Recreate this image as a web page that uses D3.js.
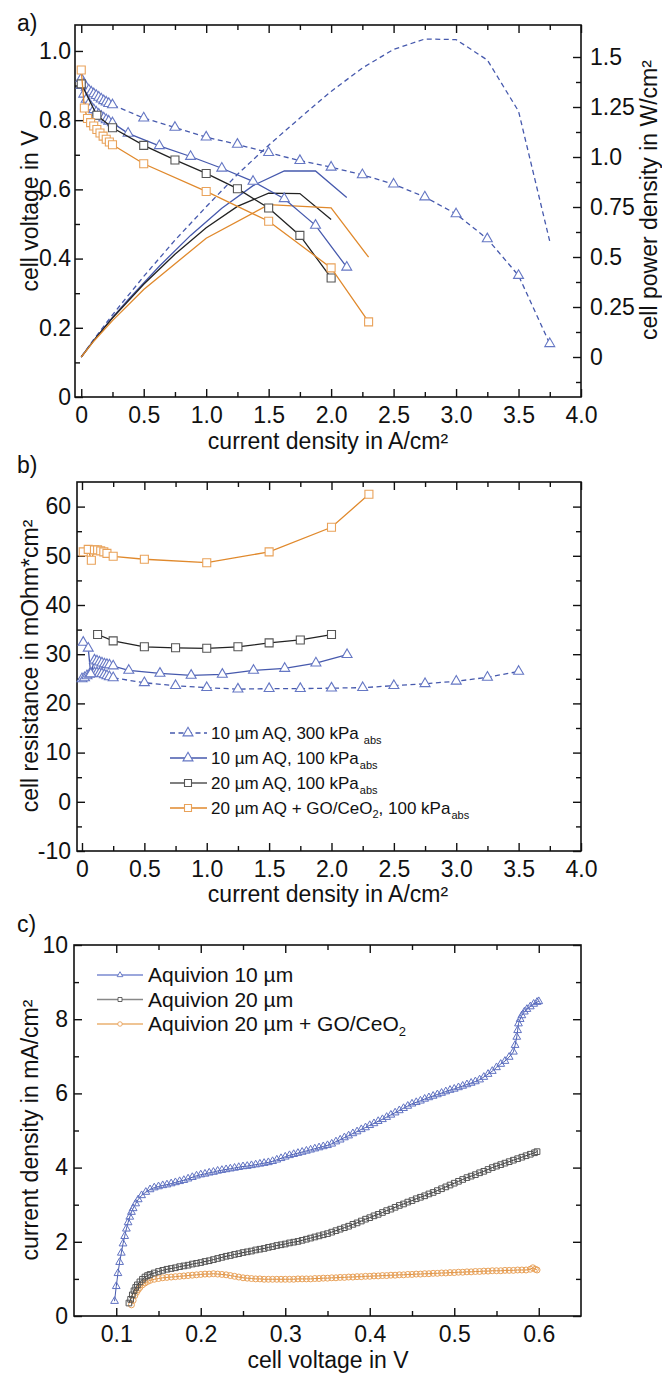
<!DOCTYPE html>
<html><head><meta charset="utf-8">
<script src="https://cdn.jsdelivr.net/npm/d3@7"></script>
<style>
body{margin:0;background:#fff}
svg{display:block}
text{font-family:"Liberation Sans",Arial,Helvetica,sans-serif;fill:#111}
</style>
</head><body>
<svg id="chart" width="662" height="1375"></svg>
<script>
// ---------------- Panel a: polarisation (cell voltage) ----------------
const aI300 = [0,0.02,0.04,0.06,0.08,0.10,0.12,0.14,0.16,0.18,0.20,0.22,0.25,0.5,0.75,1.0,1.25,1.5,1.75,2.0,2.25,2.5,2.75,3.0,3.25,3.5,3.75];
const aV300 = [0.920,0.905,0.895,0.887,0.881,0.876,0.871,0.866,0.861,0.856,0.852,0.848,0.844,0.806,0.779,0.751,0.730,0.706,0.683,0.664,0.642,0.615,0.578,0.529,0.457,0.351,0.154];
const aI100 = [0,0.02,0.04,0.06,0.08,0.10,0.12,0.14,0.16,0.18,0.20,0.22,0.25,0.375,0.625,0.875,1.125,1.375,1.625,1.875,2.125];
const aV100 = [0.900,0.875,0.860,0.848,0.838,0.830,0.823,0.817,0.811,0.806,0.801,0.797,0.792,0.762,0.726,0.695,0.661,0.623,0.573,0.496,0.375];
const aI20 = [0,0.125,0.25,0.5,0.75,1.0,1.25,1.5,1.75,2.0];
const aV20 = [0.905,0.814,0.778,0.727,0.685,0.646,0.602,0.546,0.467,0.344];
const aIGO = [0,0.025,0.05,0.075,0.1,0.125,0.15,0.175,0.2,0.225,0.25,0.5,1.0,1.5,2.0,2.3];
const aVGO = [0.945,0.835,0.805,0.793,0.783,0.773,0.763,0.754,0.745,0.737,0.729,0.674,0.594,0.508,0.373,0.217];
// power density (right axis)
const pI300 = [0,0.1,0.25,0.5,0.75,1.0,1.25,1.5,1.75,2.0,2.25,2.5,2.75,3.0,3.25,3.5,3.75];
const pP300 = [0,0.088,0.211,0.403,0.584,0.751,0.913,1.059,1.195,1.328,1.445,1.538,1.590,1.587,1.485,1.229,0.578];
const pI100 = [0,0.1,0.25,0.375,0.625,0.875,1.125,1.375,1.625,1.875,2.125];
const pP100 = [0,0.083,0.198,0.286,0.454,0.608,0.744,0.857,0.931,0.930,0.797];
const pI20 = [0,0.125,0.25,0.5,0.75,1.0,1.25,1.5,1.75,2.0];
const pP20 = [0,0.102,0.195,0.364,0.514,0.646,0.753,0.819,0.817,0.688];
const pIGO = [0,0.1,0.25,0.5,1.0,1.5,2.0,2.3];
const pPGO = [0,0.079,0.182,0.337,0.594,0.762,0.746,0.499];

// ---------------- Panel b: cell resistance ----------------
const bI300 = [0,0.02,0.04,0.06,0.08,0.1,0.12,0.14,0.16,0.18,0.2,0.22,0.25,0.5,0.75,1.0,1.25,1.5,1.75,2.0,2.25,2.5,2.75,3.0,3.25,3.5];
const bR300 = [25.0,25.2,25.6,25.9,26.1,26.2,26.2,26.1,26.0,25.8,25.6,25.4,25.2,24.2,23.6,23.2,22.9,23.0,23.0,23.1,23.2,23.6,24.0,24.5,25.3,26.5];
const bI100 = [0.01,0.05,0.07,0.1,0.12,0.14,0.16,0.18,0.2,0.22,0.25,0.375,0.625,0.875,1.125,1.375,1.625,1.875,2.125];
const bR100 = [32.4,31.2,26.0,28.8,28.6,28.4,28.2,28.0,27.9,27.8,27.6,26.7,26.1,25.7,25.9,26.7,27.1,28.2,29.9];
const bI20 = [0.125,0.25,0.5,0.75,1.0,1.25,1.5,1.75,2.0];
const bR20 = [34.0,32.7,31.5,31.3,31.2,31.5,32.3,32.9,34.0];
const bIGO = [0.01,0.05,0.075,0.1,0.125,0.15,0.175,0.2,0.25,0.5,1.0,1.5,2.0,2.3];
const bRGO = [50.8,51.3,49.1,51.2,51.2,51.0,50.8,50.5,49.9,49.3,48.6,50.8,55.8,62.5];

// ---------------- Panel c: [cell voltage V, current density mA/cm2] ----------------
const cAq10 = [[0.098,0.40],[0.100,0.80],[0.102,1.15],[0.104,1.45],[0.106,1.70],[0.108,1.95],[0.110,2.15],[0.112,2.35],[0.114,2.52],[0.116,2.67],[0.118,2.80],[0.120,2.90],[0.123,3.03],[0.126,3.14],[0.130,3.25],[0.135,3.34],[0.140,3.41],[0.145,3.46],[0.150,3.49],[0.155,3.52],[0.160,3.54],[0.165,3.57],[0.170,3.60],[0.175,3.63],[0.180,3.66],[0.185,3.70],[0.190,3.74],[0.195,3.78],[0.200,3.81],[0.205,3.83],[0.210,3.86],[0.215,3.88],[0.220,3.91],[0.225,3.93],[0.230,3.95],[0.235,3.97],[0.240,3.99],[0.245,4.01],[0.250,4.03],[0.255,4.04],[0.260,4.06],[0.265,4.08],[0.270,4.10],[0.275,4.12],[0.280,4.14],[0.285,4.17],[0.290,4.21],[0.295,4.25],[0.300,4.29],[0.305,4.33],[0.310,4.36],[0.315,4.39],[0.320,4.42],[0.325,4.45],[0.330,4.48],[0.335,4.51],[0.340,4.54],[0.345,4.57],[0.350,4.60],[0.355,4.64],[0.360,4.70],[0.365,4.75],[0.370,4.81],[0.375,4.86],[0.380,4.92],[0.385,4.97],[0.390,5.03],[0.395,5.08],[0.400,5.14],[0.405,5.19],[0.410,5.25],[0.415,5.30],[0.420,5.36],[0.425,5.42],[0.430,5.48],[0.435,5.54],[0.440,5.60],[0.445,5.66],[0.450,5.72],[0.455,5.76],[0.460,5.80],[0.465,5.85],[0.470,5.89],[0.475,5.93],[0.480,5.97],[0.485,6.01],[0.490,6.05],[0.495,6.09],[0.500,6.12],[0.505,6.16],[0.510,6.20],[0.515,6.24],[0.520,6.28],[0.525,6.32],[0.530,6.37],[0.535,6.44],[0.540,6.52],[0.545,6.60],[0.550,6.70],[0.555,6.79],[0.560,6.87],[0.565,6.98],[0.570,7.12],[0.572,7.30],[0.574,7.52],[0.575,7.70],[0.576,7.88],[0.578,8.00],[0.580,8.10],[0.583,8.20],[0.586,8.27],[0.590,8.34],[0.594,8.41],[0.598,8.46],[0.600,8.48]];
const cAq20 = [[0.115,0.35],[0.117,0.45],[0.119,0.57],[0.121,0.68],[0.123,0.77],[0.125,0.84],[0.128,0.92],[0.131,0.99],[0.134,1.05],[0.137,1.09],[0.140,1.12],[0.145,1.16],[0.150,1.20],[0.155,1.23],[0.160,1.26],[0.165,1.28],[0.170,1.30],[0.175,1.33],[0.180,1.35],[0.185,1.37],[0.190,1.40],[0.195,1.42],[0.200,1.44],[0.205,1.47],[0.210,1.49],[0.215,1.52],[0.220,1.55],[0.225,1.58],[0.230,1.61],[0.235,1.63],[0.240,1.66],[0.245,1.68],[0.250,1.71],[0.255,1.73],[0.260,1.75],[0.265,1.78],[0.270,1.80],[0.275,1.82],[0.280,1.85],[0.285,1.87],[0.290,1.90],[0.295,1.92],[0.300,1.94],[0.305,1.97],[0.310,1.99],[0.315,2.01],[0.320,2.04],[0.325,2.07],[0.330,2.10],[0.335,2.13],[0.340,2.16],[0.345,2.19],[0.350,2.22],[0.355,2.26],[0.360,2.30],[0.365,2.34],[0.370,2.38],[0.375,2.42],[0.380,2.47],[0.385,2.51],[0.390,2.56],[0.395,2.61],[0.400,2.65],[0.405,2.70],[0.410,2.74],[0.415,2.79],[0.420,2.84],[0.425,2.88],[0.430,2.93],[0.435,2.98],[0.440,3.02],[0.445,3.07],[0.450,3.11],[0.455,3.16],[0.460,3.20],[0.465,3.24],[0.470,3.29],[0.475,3.33],[0.480,3.38],[0.485,3.43],[0.490,3.48],[0.495,3.53],[0.500,3.58],[0.505,3.63],[0.510,3.68],[0.515,3.73],[0.520,3.77],[0.525,3.81],[0.530,3.86],[0.535,3.90],[0.540,3.95],[0.545,4.00],[0.550,4.04],[0.555,4.08],[0.560,4.12],[0.565,4.16],[0.570,4.20],[0.575,4.24],[0.580,4.28],[0.585,4.32],[0.590,4.36],[0.595,4.40],[0.598,4.43]];
const cAq20GO = [[0.118,0.30],[0.120,0.42],[0.122,0.55],[0.124,0.64],[0.126,0.71],[0.128,0.77],[0.131,0.84],[0.134,0.89],[0.137,0.93],[0.140,0.96],[0.145,0.99],[0.150,1.01],[0.155,1.03],[0.160,1.04],[0.165,1.05],[0.170,1.06],[0.175,1.07],[0.180,1.08],[0.185,1.09],[0.190,1.10],[0.195,1.11],[0.200,1.12],[0.205,1.13],[0.210,1.13],[0.215,1.14],[0.220,1.13],[0.225,1.12],[0.230,1.11],[0.235,1.09],[0.240,1.07],[0.245,1.05],[0.250,1.03],[0.255,1.02],[0.260,1.01],[0.265,1.00],[0.270,1.00],[0.275,0.99],[0.280,0.99],[0.285,0.99],[0.290,0.99],[0.295,0.99],[0.300,0.99],[0.305,0.99],[0.310,0.99],[0.315,1.00],[0.320,1.00],[0.325,1.00],[0.330,1.00],[0.335,1.01],[0.340,1.01],[0.345,1.02],[0.350,1.02],[0.355,1.03],[0.360,1.03],[0.365,1.04],[0.370,1.04],[0.375,1.05],[0.380,1.05],[0.385,1.06],[0.390,1.06],[0.395,1.07],[0.400,1.07],[0.405,1.08],[0.410,1.08],[0.415,1.09],[0.420,1.09],[0.425,1.10],[0.430,1.10],[0.435,1.11],[0.440,1.11],[0.445,1.12],[0.450,1.12],[0.455,1.13],[0.460,1.13],[0.465,1.14],[0.470,1.14],[0.475,1.15],[0.480,1.15],[0.485,1.16],[0.490,1.16],[0.495,1.17],[0.500,1.17],[0.505,1.18],[0.510,1.18],[0.515,1.19],[0.520,1.19],[0.525,1.20],[0.530,1.20],[0.535,1.21],[0.540,1.21],[0.545,1.22],[0.550,1.22],[0.555,1.22],[0.560,1.23],[0.565,1.23],[0.570,1.23],[0.575,1.24],[0.580,1.24],[0.585,1.24],[0.590,1.26],[0.593,1.30],[0.596,1.26],[0.598,1.24]];

// ---------------- tick values & labels ----------------
const aXMaj = [0,0.5,1.0,1.5,2.0,2.5,3.0,3.5,4.0];
const aXMin = [0.25,0.75,1.25,1.75,2.25,2.75,3.25,3.75];
const aYMaj = [0,0.2,0.4,0.6,0.8,1.0];
const aYMin = [0.1,0.3,0.5,0.7,0.9];
const aPMaj = [0,0.25,0.5,0.75,1.0,1.25,1.5];
const aPLab = ["0","0.25","0.5","0.75","1.0","1.25","1.5"];
const aPMin = [-0.125,0.125,0.375,0.625,0.875,1.125,1.375];
const bYMaj = [-10,0,10,20,30,40,50,60];
const bYMin = [-5,5,15,25,35,45,55];
const cXMaj = [0.1,0.2,0.3,0.4,0.5,0.6];
const cXMin = [0.15,0.25,0.35,0.45,0.55];
const cYMaj = [0,2,4,6,8,10];
const cYMin = [1,3,5,7,9];

const legendB = ["10 µm AQ, 300 kPa","10 µm AQ, 100 kPa","20 µm AQ, 100 kPa","20 µm AQ + GO/CeO"];
const legendC = ["Aquivion 10 µm","Aquivion 20 µm","Aquivion 20 µm + GO/CeO"];

// ---------------- styles ----------------
const BLUE = "#4659ad", BLUE_M = "#6577c4", BLACK = "#222", GRAY_M = "#555", ORANGE = "#e0892c", ORANGE_M = "#e9a25a";
const FS = 23;

const svg = d3.select("#chart");
const zip = (a, b) => a.map((v, i) => [v, b[i]]);
const fmt1 = d => d === 0 ? "0" : d.toFixed(1);

function axis(gen, tr, vals, size, fmt, pad) {
  const a = svg.append("g").attr("transform", tr)
    .call(gen.tickValues(vals).tickSize(-size).tickPadding(pad).tickFormat(fmt || (() => "")));
  a.select(".domain").remove();
  a.selectAll("line").attr("stroke", "#111").attr("stroke-width", 1.4);
  a.selectAll("text").attr("font-size", FS).attr("fill", "#111")
    .attr("font-family", '"Liberation Sans",Arial,sans-serif');
  return a;
}

function frame(x, y, o) {
  const [x0, x1] = x.range(), [yb, yt] = y.range();
  axis(d3.axisBottom(x), `translate(0,${yb})`, o.xMaj, 8, o.xFmt, 10);
  axis(d3.axisBottom(x), `translate(0,${yb})`, o.xMin, 5, null, 10);
  axis(d3.axisTop(x), `translate(0,${yt})`, o.xMaj, 8, null, 3);
  axis(d3.axisTop(x), `translate(0,${yt})`, o.xMin, 5, null, 3);
  axis(d3.axisLeft(y), `translate(${x0},0)`, o.yMaj, 8, o.yFmt, o.yPad);
  axis(d3.axisLeft(y), `translate(${x0},0)`, o.yMin, 5, null, 3);
  if (!o.noRight) {
    axis(d3.axisRight(y), `translate(${x1},0)`, o.yMaj, 8, null, 3);
    axis(d3.axisRight(y), `translate(${x1},0)`, o.yMin, 5, null, 3);
  }
  svg.append("rect").attr("x", x0).attr("y", yt).attr("width", x1 - x0).attr("height", yb - yt)
    .attr("fill", "none").attr("stroke", "#111").attr("stroke-width", 1.6);
}

function symbolPath(type, size) {
  const t = type === "tri" ? d3.symbolTriangle : type === "sq" ? d3.symbolSquare : d3.symbolCircle;
  return d3.symbol().type(t).size(size)();
}

function series(x, y, data, o) {
  const g = svg.append("g");
  g.append("path").datum(data)
    .attr("d", d3.line().x(d => x(d[0])).y(d => y(d[1])))
    .attr("fill", "none").attr("stroke", o.color).attr("stroke-width", o.lw || 1.3)
    .attr("stroke-dasharray", o.dash || null);
  if (o.marker) {
    const p = symbolPath(o.marker, o.size);
    g.selectAll("path.m").data(data).join("path").attr("class", "m")
      .attr("d", p)
      .attr("transform", d => `translate(${x(d[0])},${y(d[1])})`)
      .attr("fill", o.fill || "#fff").attr("stroke", o.mcolor || o.color)
      .attr("stroke-width", o.msw || 1.1);
  }
}

function txt(x, y, s, o = {}) {
  const t = svg.append("text").attr("x", x).attr("y", y).text(s)
    .attr("font-size", o.fs || FS).attr("text-anchor", o.anchor || "start");
  if (o.rot) t.attr("transform", `rotate(-90,${x},${y})`);
  return t;
}

// ======================= Panel a =======================
const xA = d3.scaleLinear().domain([-0.05, 4.0]).range([75, 581]);
const yA = d3.scaleLinear().domain([0, 1.075]).range([397, 25]);
const yP = d3.scaleLinear().domain([-0.2, 1.66]).range([397, 25]);
frame(xA, yA, { xMaj: aXMaj, xMin: aXMin, xFmt: fmt1, yMaj: aYMaj, yMin: aYMin, yFmt: fmt1, yPad: 4, noRight: true });
axis(d3.axisRight(yP), `translate(581,0)`, aPMaj, 8, (d, i) => aPLab[i], 9);
axis(d3.axisRight(yP), `translate(581,0)`, aPMin, 5, null, 3);

// power curves
series(xA, yP, zip(pI300, pP300), { color: BLUE, dash: "5,3.5" });
series(xA, yP, zip(pI100, pP100), { color: BLUE });
series(xA, yP, zip(pI20, pP20), { color: BLACK });
series(xA, yP, zip(pIGO, pPGO), { color: ORANGE });
// voltage curves
series(xA, yA, zip(aI300, aV300), { color: BLUE, dash: "5,3.5", marker: "tri", size: 43, mcolor: BLUE_M });
series(xA, yA, zip(aI100, aV100), { color: BLUE, marker: "tri", size: 43, mcolor: BLUE_M });
series(xA, yA, zip(aI20, aV20), { color: BLACK, marker: "sq", size: 64, mcolor: GRAY_M });
series(xA, yA, zip(aIGO, aVGO), { color: ORANGE, marker: "sq", size: 64, mcolor: ORANGE_M });

txt(17, 31, "a)");
txt(328, 449, "current density in A/cm²", { anchor: "middle" });
txt(38, 211, "cell voltage in V", { anchor: "middle", rot: true });
txt(657, 200, "cell power density in W/cm²", { anchor: "middle", rot: true });

// ======================= Panel b =======================
const xB = d3.scaleLinear().domain([-0.04, 4.0]).range([77, 581]);
const yB = d3.scaleLinear().domain([-10, 65]).range([851, 482]);
frame(xB, yB, { xMaj: aXMaj, xMin: aXMin, xFmt: fmt1, yMaj: bYMaj, yMin: bYMin, yFmt: d => String(d), yPad: 6 });

series(xB, yB, zip(bI300, bR300), { color: BLUE, dash: "5,3.5", marker: "tri", size: 43, mcolor: BLUE_M });
series(xB, yB, zip(bI100, bR100), { color: BLUE, marker: "tri", size: 43, mcolor: BLUE_M });
series(xB, yB, zip(bI20, bR20), { color: BLACK, marker: "sq", size: 64, mcolor: GRAY_M });
series(xB, yB, zip(bIGO, bRGO), { color: ORANGE, marker: "sq", size: 64, mcolor: ORANGE_M });

txt(17, 473, "b)");
txt(328, 902, "current density in A/cm²", { anchor: "middle" });
txt(38, 666, "cell resistance in mOhm*cm²", { anchor: "middle", rot: true });

// legend b
const legB = [
  { color: BLUE, mcolor: BLUE_M, dash: "5,3.5", marker: "tri", size: 43 },
  { color: BLUE, mcolor: BLUE_M, marker: "tri", size: 43 },
  { color: "#555", mcolor: GRAY_M, marker: "sq", size: 49 },
  { color: ORANGE, mcolor: ORANGE_M, marker: "sq", size: 49 }
];
legB.forEach((s, i) => {
  const yy = 733 + i * 25;
  svg.append("line").attr("x1", 170).attr("x2", 207).attr("y1", yy).attr("y2", yy)
    .attr("stroke", s.color).attr("stroke-width", 1.5).attr("stroke-dasharray", s.dash || null);
  svg.append("path").attr("d", symbolPath(s.marker, s.size)).attr("transform", `translate(188,${yy})`)
    .attr("fill", "#fff").attr("stroke", s.mcolor).attr("stroke-width", 1.1);
  const t = svg.append("text").attr("x", 211).attr("y", yy + 6).attr("font-size", 17);
  t.append("tspan").text(legendB[i]);
  if (i === 3) {
    t.append("tspan").attr("dy", 4).attr("font-size", 11).text("2");
    t.append("tspan").attr("dy", -4).text(", 100 kPa");
  }
  t.append("tspan").attr("dy", 5).attr("dx", i === 0 ? 5 : 1).attr("font-size", 11).text("abs");
});

// ======================= Panel c =======================
const xC = d3.scaleLinear().domain([0.05, 0.65]).range([74, 581]);
const yC = d3.scaleLinear().domain([0, 10]).range([1316, 945]);
frame(xC, yC, { xMaj: cXMaj, xMin: cXMin, xFmt: d => d.toFixed(1), yMaj: cYMaj, yMin: cYMin, yFmt: d => String(d), yPad: 6 });

series(xC, yC, cAq20GO, { color: "#d98c3a", lw: 1, marker: "circle", size: 28, mcolor: ORANGE_M, fill: "none", msw: 1 });
series(xC, yC, cAq20, { color: "#333", lw: 1, marker: "sq", size: 32, mcolor: "#555", fill: "none", msw: 1 });
series(xC, yC, cAq10, { color: BLUE, lw: 1, marker: "tri", size: 26, mcolor: "#6072c2", fill: "none", msw: 1 });

txt(17, 932, "c)");
txt(328, 1368, "cell voltage in V", { anchor: "middle" });
txt(38, 1130, "current density in mA/cm²", { anchor: "middle", rot: true });

// legend c
const legC = [
  { color: "#7a8ad0", mcolor: "#5d70c0", marker: "tri", size: 14 },
  { color: "#888", mcolor: "#555", marker: "sq", size: 16 },
  { color: "#eab070", mcolor: ORANGE_M, marker: "circle", size: 16 }
];
legC.forEach((s, i) => {
  const yy = 975 + i * 24.5;
  svg.append("line").attr("x1", 97).attr("x2", 143).attr("y1", yy).attr("y2", yy)
    .attr("stroke", s.color).attr("stroke-width", 1.3);
  svg.append("path").attr("d", symbolPath(s.marker, s.size)).attr("transform", `translate(120,${yy})`)
    .attr("fill", "#fff").attr("stroke", s.mcolor).attr("stroke-width", 0.9);
  const t = svg.append("text").attr("x", 148).attr("y", yy + 7).attr("font-size", 21);
  t.append("tspan").text(legendC[i]);
  if (i === 2) t.append("tspan").attr("dy", 5).attr("font-size", 13).text("2");
});
</script>
</body></html>
